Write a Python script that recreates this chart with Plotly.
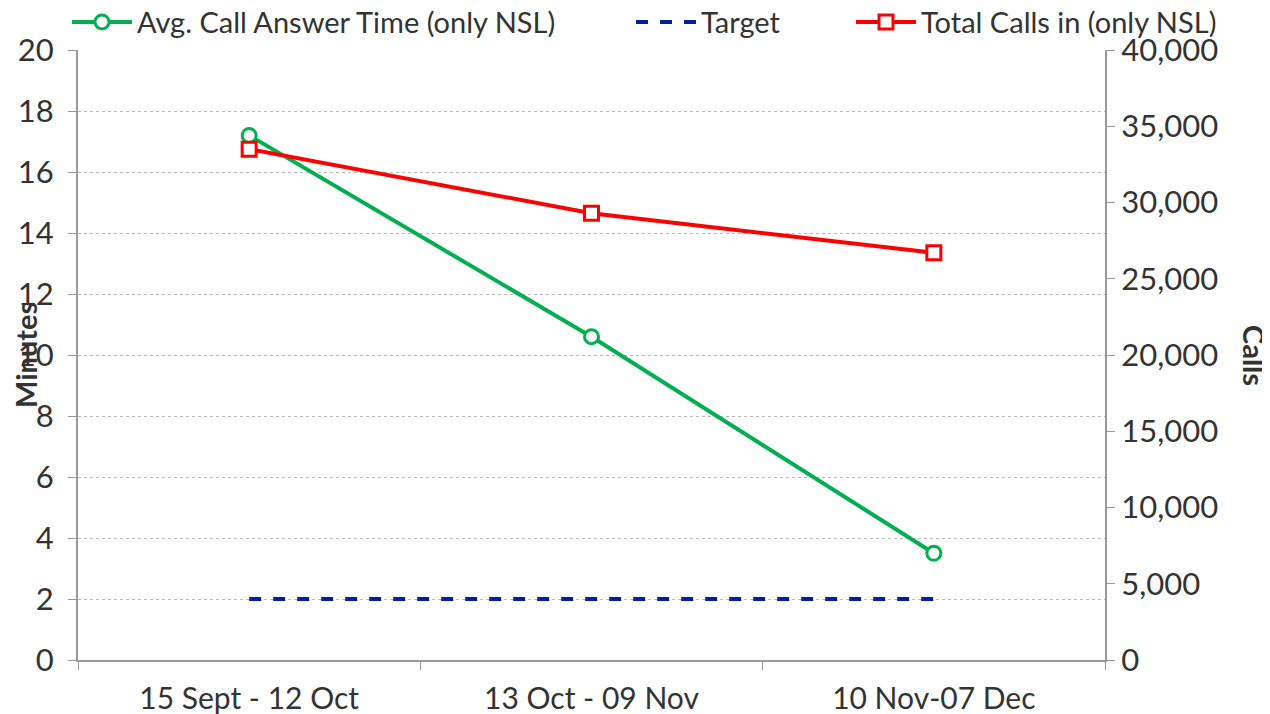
import plotly.graph_objects as go

periods = ["15 Sept - 12 Oct", "13 Oct - 09 Nov", "10 Nov-07 Dec"]
avg_answer_min = [17.2, 10.6, 3.5]
target_min = [2, 2, 2]
total_calls = [33500, 29300, 26700]

font = "Lato"
txt = "#333333"
axis_col = "#999999"
tick_fs = 31
leg_fs = 29

# page body adds an 8px offset, so the figure is sized to fit the window
W, H = 1262, 706
PL = 70  # plot left inside figure (-> 78 on page)
PW = 1027

fig = go.Figure()

fig.add_trace(go.Scatter(
    x=periods, y=avg_answer_min, name="Avg. Call Answer Time (only NSL)",
    mode="lines+markers", legend="legend",
    line=dict(color="#00b050", width=4),
    marker=dict(symbol="circle", size=14, color="white",
                line=dict(color="#00b050", width=3)),
))
fig.add_trace(go.Scatter(
    x=periods, y=target_min, name="Target",
    mode="lines", legend="legend2",
    line=dict(color="#0020a0", width=4, dash="dash"),
))
fig.add_trace(go.Scatter(
    x=periods, y=total_calls, name="Total Calls in (only NSL)",
    mode="lines+markers", yaxis="y2", legend="legend3",
    line=dict(color="#ff0000", width=4),
    marker=dict(symbol="square", size=14, color="white",
                line=dict(color="#ff0000", width=3)),
))

leg = dict(orientation="h", xref="paper", yref="paper", y=1.004, yanchor="bottom",
           xanchor="left", font=dict(size=leg_fs, color=txt), itemwidth=60,
           bgcolor="rgba(0,0,0,0)", borderwidth=0)

fig.update_layout(
    width=W, height=H,
    margin=dict(l=PL, r=W - PL - PW, t=42, b=54, autoexpand=False),
    plot_bgcolor="white", paper_bgcolor="white",
    font=dict(family=font, size=tick_fs, color=txt),
    showlegend=True,
    legend=dict(leg, x=(67 - 78) / PW),
    legend2=dict(leg, x=(631 - 78) / PW),
    legend3=dict(leg, x=(851 - 78) / PW),
    xaxis=dict(
        type="category", range=[-0.5, 2.5], automargin=False,
        showline=True, linecolor=axis_col, linewidth=2,
        ticks="outside", tickson="boundaries", ticklen=8, tickcolor=axis_col, tickwidth=1,
        showgrid=False, tickfont=dict(size=30, color=txt), ticklabelstandoff=11,
    ),
    yaxis=dict(
        range=[0, 20], dtick=2, automargin=False,
        showline=True, linecolor=axis_col, linewidth=2,
        ticks="outside", ticklen=8, tickcolor=axis_col,
        showgrid=True, gridcolor="#b8b8b8", griddash="dot", gridwidth=1,
        zeroline=False, tickfont=dict(size=tick_fs, color=txt), ticklabelstandoff=8,
    ),
    yaxis2=dict(
        range=[0, 40000], dtick=5000, overlaying="y", side="right", automargin=False,
        tickformat=",d",
        showline=True, linecolor=axis_col, linewidth=2,
        ticks="outside", ticklen=8, tickcolor=axis_col,
        showgrid=False, zeroline=False, tickfont=dict(size=tick_fs, color=txt),
        ticklabelstandoff=0,
    ),
    annotations=[
        dict(text="<b>Minutes</b>", textangle=-90, xref="paper", yref="paper",
             x=(25 - 78) / PW, y=0.5, xanchor="center", yanchor="middle", showarrow=False,
             font=dict(size=29, color=txt)),
        dict(text="<b>Calls</b>", textangle=90, xref="paper", yref="paper",
             x=(1255 - 78) / PW, y=0.5, xanchor="center", yanchor="middle", showarrow=False,
             font=dict(size=29, color=txt)),
    ],
)

fig.write_html("out.html")
